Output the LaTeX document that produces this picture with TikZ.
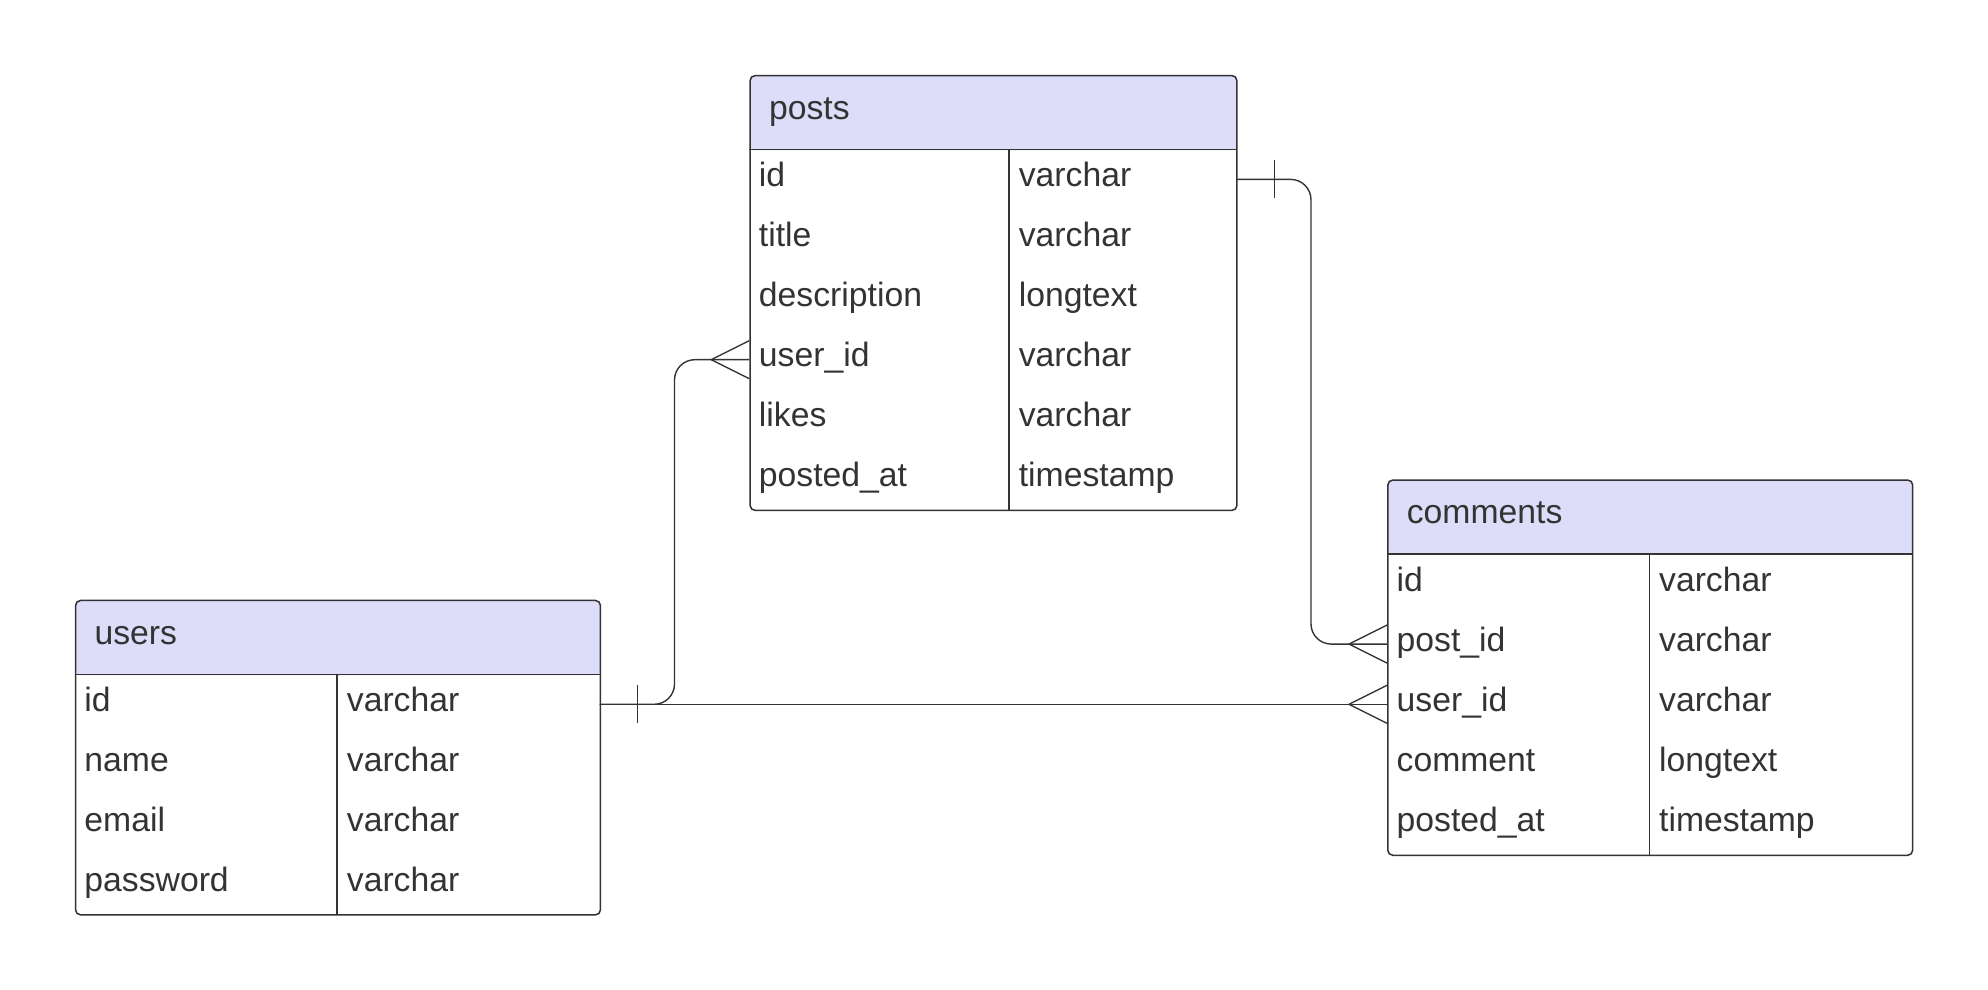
\documentclass[tikz,border=0pt]{standalone}
\usepackage{fontspec}
\setmainfont{Liberation Sans}
\definecolor{hdr}{HTML}{DDDDFA}
\definecolor{ink}{HTML}{333333}
\tikzset{
  tbl/.style={draw=ink, fill=white, rounded corners=2pt, inner sep=0pt, anchor=north west,
    path picture={\fill[hdr] (path picture bounding box.north west) rectangle ([yshift=-29.5pt]path picture bounding box.north east);}},
  cell/.style={anchor=base west, inner sep=0pt, text=ink, font=\fontsize{13.3}{16}\selectfont},
  conn/.style={draw=ink, line width=0.55pt},
}
\newcommand{\crowL}[1]{\draw[conn] ([xshift=-15pt]#1) -- ([yshift=7.5pt]#1) ([xshift=-15pt]#1) -- ([yshift=-7.5pt]#1);}
\newcommand{\barR}[1]{\draw[conn] ([xshift=15pt,yshift=7.5pt]#1) -- ([xshift=15pt,yshift=-7.5pt]#1);}
\begin{document}
\begin{tikzpicture}[x=0.5pt,y=-0.5pt, line width=0.6pt]
\useasboundingbox (0,0) rectangle (1568,780.8);

% posts
\node[tbl, minimum width=192pt, minimum height=171.5pt] (posts) at (591,59) {};
\draw[ink] (591,118) -- (975,118);
\draw[ink] (796,118) -- (796,402);
\node[cell] (posts-title) at (606,94) {posts};
\foreach \n/\t [count=\i] in {id/varchar, title/varchar, description/longtext, user\_id/varchar, likes/varchar, posted\_at/timestamp}{
  \node[cell] (posts-n\i) at ({598},{118+47.33*(\i-0.5)+5.5}) {\n};
  \node[cell] (posts-t\i) at ({803},{118+47.33*(\i-0.5)+5.5}) {\t};
}

% users
\node[tbl, minimum width=207pt, minimum height=124pt] (users) at (59,473) {};
\draw[ink] (59,532) -- (473,532);
\draw[ink] (266,532) -- (266,721);
\node[cell] (users-title) at (74,508) {users};
\foreach \n/\t [count=\i] in {id/varchar, name/varchar, email/varchar, password/varchar}{
  \node[cell] (users-n\i) at ({66},{532+47.33*(\i-0.5)+5.5}) {\n};
  \node[cell] (users-t\i) at ({273},{532+47.33*(\i-0.5)+5.5}) {\t};
}

% comments
\node[tbl, minimum width=207pt, minimum height=148pt] (comments) at (1094,378) {};
\draw[ink] (1094,437) -- (1508,437);
\draw[ink] (1301,437) -- (1301,674);
\node[cell] (comments-title) at (1109,413) {comments};
\foreach \n/\t [count=\i] in {id/varchar, post\_id/varchar, user\_id/varchar, comment/longtext, posted\_at/timestamp}{
  \node[cell] (comments-n\i) at ({1101},{437+47.33*(\i-0.5)+5.5}) {\n};
  \node[cell] (comments-t\i) at ({1308},{437+47.33*(\i-0.5)+5.5}) {\t};
}

% connector end points
\coordinate (users-id-R) at (473,555.5);
\coordinate (posts-userid-L) at (591,283.7);
\coordinate (posts-id-R) at (975,141.5);
\coordinate (comments-postid-L) at (1094,508);
\coordinate (comments-userid-L) at (1094,555.5);

% users -> comments
\draw[conn] (users-id-R) -- (comments-userid-L);
\crowL{comments-userid-L}
% users -> posts
\draw[conn, rounded corners=8pt] (users-id-R) -- (532,555.5) -- (532,283.7) -- (posts-userid-L);
\crowL{posts-userid-L}
\barR{users-id-R}
% posts -> comments
\draw[conn, rounded corners=8pt] (posts-id-R) -- (1034,141.5) -- (1034,508) -- (comments-postid-L);
\crowL{comments-postid-L}
\barR{posts-id-R}
\end{tikzpicture}
\end{document}
